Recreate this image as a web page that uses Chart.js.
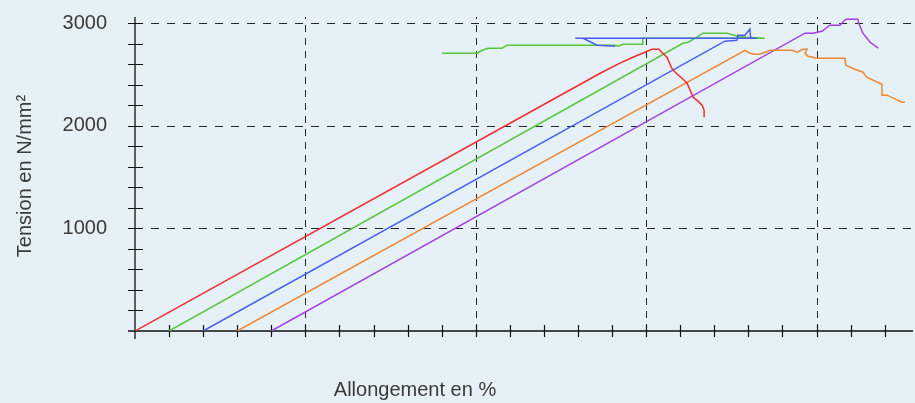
<!DOCTYPE html>
<html>
<head>
<meta charset="utf-8">
<script src="https://cdn.jsdelivr.net/npm/chart.js@4.4.1/dist/chart.umd.min.js"></script>
<style>
    body { margin: 0; background: #e5f0f7; }
    #wrap { width: 915px; height: 403px; position: relative; background: #e5f0f7; }
</style>
</head>
<body>
<div id="wrap"><canvas id="chartTension"></canvas></div>
<script>
// one curve per test piece, x = elongation (tick units), y = tension N/mm2
var seriesNames = ['Essai 1', 'Essai 2', 'Essai 3', 'Essai 4', 'Essai 5'];

var redX = [0, 13.65, 14.23, 14.61, 14.96, 15.17, 15.37, 15.49, 15.61, 15.75, 15.85, 16.05, 16.20, 16.38, 16.52, 16.64, 16.70, 16.70];
var redY = [0, 2512, 2610, 2668, 2717, 2746, 2746, 2707, 2668, 2561, 2522, 2463, 2415, 2278, 2240, 2201, 2152, 2084];

var greenX = [1, 16.08, 16.23, 16.49, 16.67, 17.37, 17.69, 17.95, 18.48, 14.90, 14.90, 14.58, 14.32, 14.17, 14.09, 10.92, 10.77, 10.36, 10.19, 10.04, 9.01];
var greenY = [0, 2804, 2814, 2863, 2902, 2902, 2872, 2863, 2853, 2853, 2795, 2795, 2795, 2775, 2785, 2785, 2756, 2756, 2736, 2707, 2707];

var blueX = [2, 17.31, 17.66, 17.69, 17.90, 18.04, 18.07, 18.25, 12.92, 13.15, 13.56, 14.09];
var blueY = [0, 2824, 2833, 2882, 2882, 2941, 2853, 2853, 2853, 2853, 2785, 2775];

var orangeX = [3, 17.90, 18.04, 18.19, 18.33, 18.57, 18.64, 19.28, 19.43, 19.60, 19.72, 19.66, 19.75, 20.01, 20.83, 20.86, 21.12, 21.36, 21.47, 21.92, 21.92, 22.07, 22.51, 22.59];
var orangeY = [0, 2736, 2707, 2697, 2697, 2726, 2736, 2736, 2717, 2746, 2746, 2707, 2678, 2658, 2658, 2590, 2551, 2522, 2473, 2405, 2298, 2298, 2230, 2230];

var purpleX = [4, 19.66, 19.89, 20.16, 20.39, 20.68, 20.86, 21.21, 21.24, 21.36, 21.57, 21.81];
var purpleY = [0, 2902, 2902, 2921, 2980, 2980, 3038, 3038, 2999, 2902, 2814, 2756];

var xTicks = [1, 2, 3, 4, 5, 6, 7, 8, 9, 10, 11, 12, 13, 14, 15, 16, 17, 18, 19, 20, 21, 22];
var xGrid = [5, 10, 15, 20];
var yTicks = [200, 400, 600, 800, 1000, 1200, 1400, 1600, 1800, 2000, 2200, 2400, 2600, 2800, 3000];
var yGrid = [1000, 2000, 3000];
var yLabels = [1000, 2000, 3000];

var xTitle = 'Allongement en %';
var yTitle = 'Tension en N/mm²';

function toPoints(xs, ys) {
    var pts = [];
    for (var i = 0; i < xs.length; i++) {
        pts.push({ x: xs[i], y: ys[i] });
    }
    return pts;
}

const axesPlugin = {
    id: 'customAxes',
    beforeDatasetsDraw: function (chart) {
        const ctx = chart.ctx;
        const area = chart.chartArea;
        const sx = chart.scales.x;
        const sy = chart.scales.y;
        const x0 = sx.getPixelForValue(0);
        const y0 = sy.getPixelForValue(0);

        ctx.save();
        // dashed grid
        ctx.strokeStyle = '#262626';
        ctx.lineWidth = 1;
        ctx.setLineDash([8, 8]);
        yGrid.forEach(function (v) {
            var py = Math.round(sy.getPixelForValue(v)) + 0.5;
            ctx.beginPath();
            ctx.moveTo(x0, py);
            ctx.lineTo(area.right, py);
            ctx.stroke();
        });
        ctx.setLineDash([7, 6]);
        xGrid.forEach(function (v) {
            var px = Math.round(sx.getPixelForValue(v)) + 0.5;
            ctx.beginPath();
            ctx.moveTo(px, y0);
            ctx.lineTo(px, area.top);
            ctx.stroke();
        });
        ctx.setLineDash([]);

        // axes
        ctx.strokeStyle = '#111';
        ctx.lineWidth = 1.3;
        ctx.beginPath();
        ctx.moveTo(x0 - 7, y0);
        ctx.lineTo(area.right, y0);
        ctx.moveTo(x0, area.top);
        ctx.lineTo(x0, y0 + 8);
        ctx.stroke();

        ctx.lineWidth = 1.2;
        ctx.beginPath();
        xTicks.forEach(function (v) {
            var px = Math.round(sx.getPixelForValue(v)) + 0.5;
            ctx.moveTo(px, y0 - 6);
            ctx.lineTo(px, y0 + 6);
        });
        yTicks.forEach(function (v) {
            var py = Math.round(sy.getPixelForValue(v)) + 0.5;
            ctx.moveTo(x0 - 7, py);
            ctx.lineTo(x0 + 8, py);
        });
        ctx.stroke();

        // labels
        ctx.fillStyle = '#3a3a3a';
        ctx.font = '20px "Liberation Sans", Arial, sans-serif';
        ctx.textAlign = 'right';
        ctx.textBaseline = 'middle';
        yLabels.forEach(function (v) {
            ctx.fillText(String(v), 107, sy.getPixelForValue(v));
        });

        ctx.textAlign = 'center';
        ctx.textBaseline = 'alphabetic';
        ctx.fillText(xTitle, 415, 396);

        ctx.translate(31, 176);
        ctx.rotate(-Math.PI / 2);
        ctx.fillText(yTitle, 0, 0);
        ctx.restore();
    }
};

const ctx = document.getElementById('chartTension').getContext('2d');
const myChart = new Chart(ctx, {
    type: 'line',
    data: {
        datasets: [{
            label: seriesNames[0],
            data: toPoints(redX, redY),
            borderColor: '#ef2b2b'
        },
        {
            label: seriesNames[2],
            data: toPoints(blueX, blueY),
            borderColor: '#4a5cf0'
        },
        {
            label: seriesNames[1],
            data: toPoints(greenX, greenY),
            borderColor: '#55c83f'
        },
        {
            label: seriesNames[3],
            data: toPoints(orangeX, orangeY),
            borderColor: '#ee8733'
        },
        {
            label: seriesNames[4],
            data: toPoints(purpleX, purpleY),
            borderColor: '#a43fe3'
        }
        ]
    },
    options: {
        responsive: true,
        maintainAspectRatio: false,
        animation: false,
        layout: {
            padding: { left: 135, right: 2, top: 17, bottom: 72 }
        },
        elements: {
            point: { radius: 0 },
            line: { borderWidth: 1.5, tension: 0, fill: false }
        },
        plugins: {
            legend: { display: false },
            tooltip: { enabled: false }
        },
        scales: {
            x: { type: 'linear', min: 0, max: 22.83, display: false },
            y: { type: 'linear', min: 0, max: 3060, display: false }
        }
    },
    plugins: [axesPlugin]
});
</script>
</body>
</html>
